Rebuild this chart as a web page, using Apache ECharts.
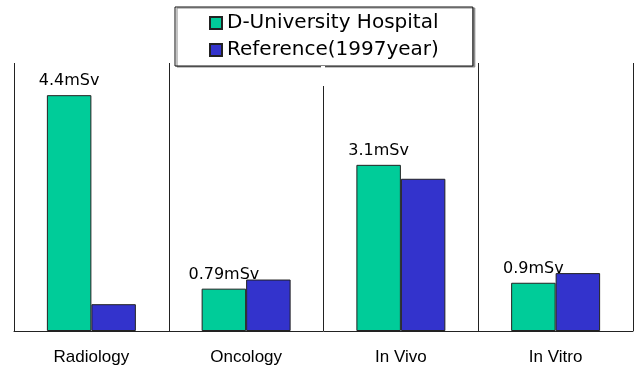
<!DOCTYPE html>
<html>
<head>
<meta charset="utf-8">
<script src="https://cdn.jsdelivr.net/npm/echarts@6/dist/echarts.min.js"></script>
<style>
  html, body { margin: 0; padding: 0; background: #fff; }
  #chart { width: 635px; height: 369px; }
</style>
</head>
<body>
<div id="chart"></div>
<script>
// Effective dose per department (mSv)
const categories = ['Radiology', 'Oncology', 'In Vivo', 'In Vitro'];
const hospitalName = 'D-University Hospital';
const referenceName = 'Reference(1997year)';
const hospitalDose = [4.4, 0.79, 3.1, 0.9];
const referenceDose = [0.50, 0.96, 2.84, 1.08];

const chart = echarts.init(document.getElementById('chart'));

const edgeColor = '#222';

chart.setOption({
  animation: false,
  backgroundColor: '#fff',
  grid: { left: 14, right: 2, top: 63, bottom: 38 },
  legend: {
    orient: 'vertical',
    left: 175,
    top: 7,
    width: 296,
    padding: [6, 34, 6, 34],
    itemGap: 7,
    itemWidth: 12,
    itemHeight: 12,
    icon: 'rect',
    borderColor: '#111',
    borderWidth: 1,
    shadowColor: '#888',
    shadowOffsetX: 2,
    shadowOffsetY: 1,
    shadowBlur: 0,
    backgroundColor: '#fff',
    textStyle: { fontFamily: 'DejaVu Sans', fontSize: 20, color: '#000', padding: [0, 0, 0, 0] },
    data: [hospitalName, referenceName]
  },
  xAxis: {
    type: 'category',
    data: categories,
    axisLine: { show: true, lineStyle: { color: edgeColor, width: 1 } },
    axisTick: { show: false },
    splitLine: { show: true, lineStyle: { color: edgeColor, width: 1 } },
    axisLabel: { fontFamily: 'Liberation Sans', fontSize: 17, color: '#000', margin: 18 }
  },
  yAxis: {
    type: 'value',
    min: 0,
    max: 5,
    axisLine: { show: false },
    axisTick: { show: false },
    axisLabel: { show: false },
    splitLine: { show: false }
  },
  series: [
    {
      name: hospitalName,
      type: 'bar',
      data: hospitalDose,
      barGap: '0%',
      barCategoryGap: '42.5%',
      itemStyle: { color: '#00CC99', borderColor: edgeColor, borderWidth: 1 },
      label: {
        show: true,
        position: 'top',
        distance: 6,
        fontFamily: 'DejaVu Sans',
        fontSize: 16,
        color: '#000',
        formatter: p => p.value + 'mSv'
      }
    },
    {
      name: referenceName,
      type: 'bar',
      data: referenceDose,
      barGap: '0%',
      barCategoryGap: '42.5%',
      itemStyle: { color: '#3333CC', borderColor: edgeColor, borderWidth: 1 }
    }
  ],
  graphic: [
    {
      // short gap at the top of the middle divider
      type: 'rect',
      shape: { x: 321, y: 66, width: 4, height: 20 },
      style: { fill: '#fff' },
      z: 10
    }
  ]
});
</script>
</body>
</html>
